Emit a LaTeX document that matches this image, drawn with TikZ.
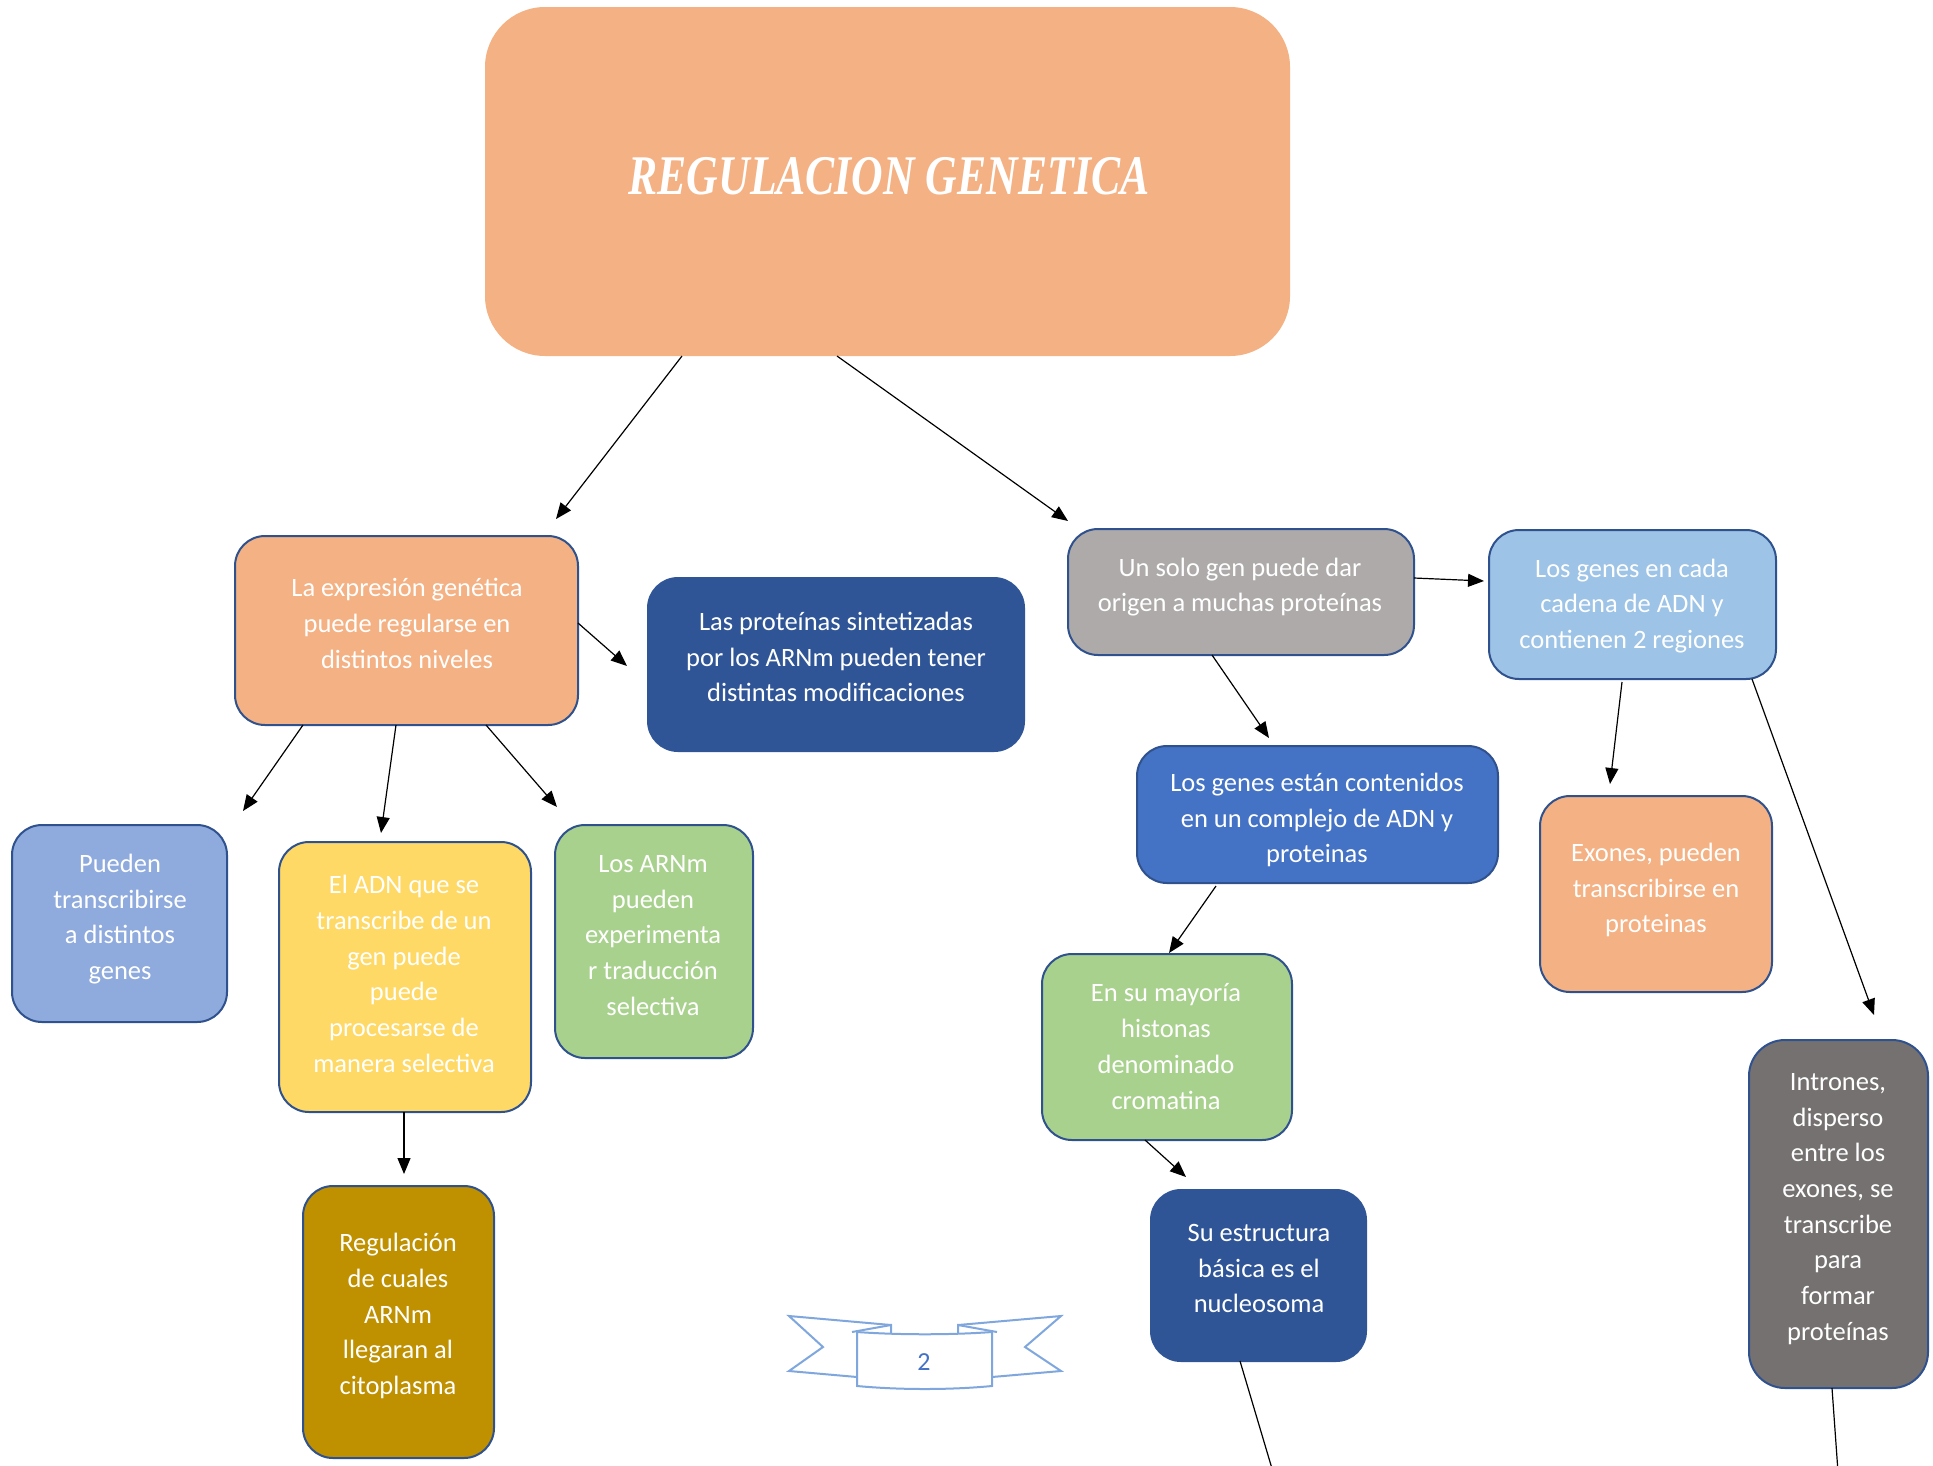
\documentclass[tikz,border=0pt]{standalone}
\usepackage{fontspec}
\setmainfont{Carlito}
\newfontfamily\titlefont[FakeStretch=0.78]{Liberation Serif}
\usetikzlibrary{arrows.meta,calc}
\definecolor{orangeF}{HTML}{F4B183}
\definecolor{dblue}{HTML}{2F5597}
\definecolor{bord}{HTML}{2F528F}
\definecolor{grayA}{HTML}{AEAAAA}
\definecolor{lblue}{HTML}{9DC3E6}
\definecolor{mblue}{HTML}{4472C4}
\definecolor{peri}{HTML}{8FAADC}
\definecolor{yell}{HTML}{FFD966}
\definecolor{greenF}{HTML}{A9D18E}
\definecolor{gold}{HTML}{BF9000}
\definecolor{dgray}{HTML}{767171}
\definecolor{ribbon}{HTML}{7FA7DE}
\definecolor{numc}{HTML}{4472C4}
\begin{document}
\begin{tikzpicture}[x=1pt,y=-1pt,
  bx/.style={draw=bord, line width=2pt, rounded corners=30pt, fill=#1, anchor=north west, inner sep=0pt, outer sep=0pt},
  tx/.style={text=white, align=center, inner sep=0pt, font=\fontsize{26.5}{35.7}\selectfont},
  arr/.style={-{Triangle[length=16pt,width=13pt]}, line width=1.2pt},
  ln/.style={line width=1.2pt},
  rib/.style={draw=ribbon, line width=2pt, line join=miter}]
\useasboundingbox (0,0) rectangle (1933,1465);

% title
\node[fill=orangeF, rounded corners=60pt, anchor=north west, inner sep=0pt, outer sep=0pt, minimum width=805pt, minimum height=349pt] (title) at (485,7) {};
\node[text=white, inner sep=0pt, font=\titlefont\bfseries\itshape\fontsize{56}{60}\selectfont] (titlet) at (889,176) {REGULACION GENETICA};

% boxes
\node[bx=orangeF, minimum width=343pt, minimum height=189pt] (expr) at (235,536) {};
\node[bx=dblue, draw=dblue, minimum width=376pt, minimum height=173pt] (prot) at (648,578) {};
\node[bx=grayA, minimum width=346pt, minimum height=126pt] (unsolo) at (1068,529) {};
\node[bx=lblue, minimum width=287pt, minimum height=149pt] (cada) at (1489,530) {};
\node[bx=mblue, minimum width=361pt, minimum height=137pt] (cont) at (1137,746) {};
\node[bx=orangeF, minimum width=232pt, minimum height=196pt] (exones) at (1540,796) {};
\node[bx=peri, minimum width=215pt, minimum height=197pt] (pueden) at (12,825) {};
\node[bx=yell, minimum width=252pt, minimum height=270pt] (adn) at (279,842) {};
\node[bx=greenF, minimum width=198pt, minimum height=233pt] (arnm) at (555,825) {};
\node[bx=greenF, minimum width=250pt, minimum height=186pt] (mayoria) at (1042,954) {};
\node[bx=gold, minimum width=191pt, minimum height=272pt] (regul) at (303,1186) {};
\node[bx=dblue, draw=dblue, minimum width=215pt, minimum height=171pt] (estruct) at (1151,1190) {};
\node[bx=dgray, rounded corners=36pt, minimum width=179pt, minimum height=348pt] (intrones) at (1749,1040) {};

% texts
\node[tx] (exprt) at (407,623.5) {La expresión genética\\puede regularse en\\distintos niveles};
\node[tx] (prott) at (836,657) {Las proteínas sintetizadas\\por los ARNm pueden tener\\distintas modificaciones};
\node[tx] (unsolot) at (1240,587) {Un solo gen puede dar\\origen a muchas proteínas};
\node[tx] (cadat) at (1632,606) {Los genes en cada\\cadena de ADN y\\contienen 2 regiones};
\node[tx] (contt) at (1317,820) {Los genes están contenidos\\en un complejo de ADN y\\proteinas};
\node[tx] (exonest) at (1656,890) {Exones, pueden\\transcribirse en\\proteinas};
\node[tx] (puedent) at (120,919) {Pueden\\transcribirse\\a distintos\\genes};
\node[tx] (adnt) at (404,974) {El ADN que se\\transcribe de un\\gen puede\\puede\\procesarse de\\manera selectiva};
\node[tx] (arnmt) at (653,935.5) {Los ARNm\\pueden\\experimenta\\r traducción\\selectiva};
\node[tx] (mayoriat) at (1166,1046.5) {En su mayoría\\histonas\\denominado\\cromatina};
\node[tx] (regult) at (398,1316) {Regulación\\de cuales\\ARNm\\llegaran al\\citoplasma};
\node[tx] (estructt) at (1259,1268.5) {Su estructura\\básica es el\\nucleosoma};
\node[tx] (intronest) at (1838,1209) {Intrones,\\disperso\\entre los\\exones, se\\transcribe\\para\\formar\\proteínas};

% connectors
\draw[arr] (682,0 |- title.south) -- ($(556,0 |- expr.north)+(0,-17)$);
\draw[arr] (837,0 |- title.south) -- ($(1068,0 |- unsolo.north)+(0,-8)$);
\draw[arr] (expr.east |- 0,623) -- ($(prot.west |- 0,666)+(-21,0)$);
\draw[arr] (303,0 |- expr.south) -- ($(243,0 |- pueden.north)+(0,-14)$);
\draw[arr] (396,0 |- expr.south) -- ($(381,0 |- adn.north)+(0,-9)$);
\draw[arr] (486,0 |- expr.south) -- ($(557,0 |- arnm.north)+(0,-18)$);
\draw[arr] (404,0 |- adn.south) -- ($(404,0 |- regul.north)+(0,-12)$);
\draw[arr] (unsolo.east |- 0,578) -- ($(cada.west |- 0,581)+(-5,0)$);
\draw[arr] (1212,0 |- unsolo.south) -- ($(1269,0 |- cont.north)+(0,-8)$);
\draw[arr] ($(1216,0 |- cont.south)+(0,3)$) -- ($(1169,0 |- mayoria.north)+(0,-1)$);
\draw[arr] ($(1622,0 |- cada.south)+(0,3)$) -- ($(1610,0 |- exones.north)+(0,-12)$);
\draw[arr] (1752,0 |- cada.south) -- ($(1874,0 |- intrones.north)+(0,-25)$);
\draw[arr] (1145,0 |- mayoria.south) -- ($(1186,0 |- estruct.north)+(0,-13)$);
\coordinate (offA) at (1273,1472);
\coordinate (offB) at (1838,1472);
\draw[ln] (1240,0 |- estruct.south) -- (offA);
\draw[ln] (1832,0 |- intrones.south) -- (offB);

% page number ribbon
\draw[rib, fill=white] (891,1325) -- (789,1316) -- (823,1347) -- (789,1371) -- (857,1377);
\draw[rib, fill=white] (958,1325) -- (1061,1316) -- (1025,1347) -- (1061,1371) -- (992,1377);
\draw[rib] (852,1332) -- (891,1325) -- (891,1334);
\draw[rib] (997,1332) -- (958,1325) -- (958,1334);
\draw[rib, fill=white] (857,1332) .. controls (900,1335) and (950,1335) .. (992,1332) -- (992,1386) .. controls (950,1390) and (900,1390) .. (857,1386) -- cycle;
\node[text=numc, inner sep=0pt, font=\fontsize{26}{30}\selectfont] (pnum) at (924,1362) {2};
\end{tikzpicture}
\end{document}
